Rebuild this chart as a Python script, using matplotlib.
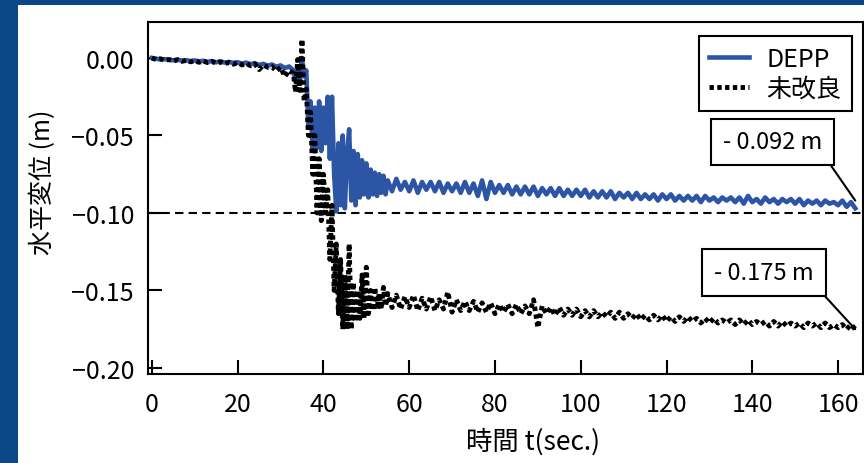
"""
Horizontal displacement time history: DEPP vs. untreated ground.
"""

import matplotlib.pyplot as plt
import numpy as np
from matplotlib.patches import Rectangle
from matplotlib.ticker import FuncFormatter, MultipleLocator

plt.rcParams["font.family"] = ["Noto Sans CJK JP", "DejaVu Sans"]

# sample times (s): quiet start, shaking, settling
T_EARLY = np.arange(0, 33, 1.0)
T_SHAKE = np.arange(33, 55, 0.5)
T_LATE = np.arange(55, 165, 1.0)

# DEPP horizontal displacement (m)
DEPP_EARLY = [
    0.000, -0.0005, -0.0010, -0.0008, -0.0012, -0.0015, -0.0010, -0.0018, -0.0014, -0.0020,
    -0.0016, -0.0022, -0.0018, -0.0025, -0.0020, -0.0028, -0.0022, -0.0030, -0.0026, -0.0032,
    -0.0028, -0.0036, -0.0030, -0.0040, -0.0034, -0.0045, -0.0038, -0.0050, -0.0042, -0.0056,
    -0.0048, -0.0065, -0.0055,
]
DEPP_SHAKE = [
    -0.008, -0.015, -0.006, -0.014, 0.000, -0.012, -0.008, -0.045, -0.028, -0.060,
    -0.032, -0.058, -0.028, -0.060, -0.032, -0.055, -0.025, -0.065, -0.025, -0.075,
    -0.099, -0.055, -0.095, -0.050, -0.097, -0.062, -0.046, -0.092, -0.060, -0.095,
    -0.062, -0.090, -0.066, -0.088, -0.068, -0.090, -0.072, -0.088, -0.074, -0.089,
    -0.075, -0.087, -0.076, -0.088,
]
DEPP_LATE = [
    -0.079, -0.086, -0.078, -0.085, -0.080, -0.086, -0.079, -0.087, -0.080, -0.085,
    -0.080, -0.086, -0.080, -0.087, -0.081, -0.086, -0.081, -0.087, -0.080, -0.087,
    -0.081, -0.089, -0.079, -0.091, -0.080, -0.087, -0.082, -0.087, -0.082, -0.088,
    -0.083, -0.088, -0.083, -0.088, -0.083, -0.089, -0.084, -0.088, -0.084, -0.089,
    -0.084, -0.089, -0.085, -0.089, -0.085, -0.089, -0.085, -0.090, -0.086, -0.090,
    -0.086, -0.090, -0.086, -0.091, -0.087, -0.090, -0.087, -0.091, -0.087, -0.091,
    -0.088, -0.091, -0.088, -0.092, -0.088, -0.091, -0.088, -0.092, -0.089, -0.092,
    -0.089, -0.092, -0.089, -0.093, -0.089, -0.092, -0.090, -0.093, -0.090, -0.092,
    -0.090, -0.093, -0.090, -0.094, -0.089, -0.093, -0.091, -0.094, -0.090, -0.093,
    -0.091, -0.094, -0.091, -0.093, -0.091, -0.094, -0.091, -0.095, -0.092, -0.094,
    -0.092, -0.095, -0.092, -0.094, -0.093, -0.095, -0.092, -0.096, -0.093, -0.097,
]

# untreated ground horizontal displacement (m)
UNTREATED_EARLY = [
    0.000, -0.0010, -0.0005, -0.0015, -0.0010, -0.0020, -0.0012, -0.0022, -0.0015, -0.0025,
    -0.0018, -0.0028, -0.0020, -0.0030, -0.0022, -0.0035, -0.0025, -0.0038, -0.0028, -0.0040,
    -0.0030, -0.0045, -0.0035, -0.0050, -0.0038, -0.0075, -0.0045, -0.0060, -0.0055, -0.0085,
    -0.0060, -0.0120, -0.0080,
]
UNTREATED_SHAKE = [
    -0.010, -0.022, -0.001, -0.021, 0.012, -0.028, -0.020, -0.050, -0.035, -0.075,
    -0.050, -0.100, -0.065, -0.105, -0.075, -0.100, -0.085, -0.130, -0.095, -0.150,
    -0.120, -0.165, -0.130, -0.175, -0.140, -0.175, -0.120, -0.175, -0.145, -0.170,
    -0.150, -0.168, -0.140, -0.168, -0.135, -0.165, -0.150, -0.163, -0.148, -0.162,
    -0.152, -0.162, -0.148, -0.160,
]
UNTREATED_LATE = [
    -0.152, -0.161, -0.153, -0.162, -0.154, -0.161, -0.153, -0.163, -0.155, -0.162,
    -0.154, -0.163, -0.156, -0.162, -0.151, -0.164, -0.156, -0.163, -0.157, -0.163,
    -0.157, -0.164, -0.158, -0.164, -0.158, -0.165, -0.159, -0.164, -0.159, -0.165,
    -0.159, -0.165, -0.160, -0.165, -0.156, -0.174, -0.160, -0.165, -0.161, -0.166,
    -0.161, -0.166, -0.162, -0.166, -0.162, -0.167, -0.163, -0.167, -0.163, -0.167,
    -0.164, -0.167, -0.164, -0.168, -0.164, -0.168, -0.165, -0.168, -0.165, -0.169,
    -0.166, -0.169, -0.166, -0.169, -0.166, -0.170, -0.167, -0.170, -0.167, -0.170,
    -0.167, -0.170, -0.168, -0.171, -0.168, -0.171, -0.168, -0.171, -0.169, -0.171,
    -0.169, -0.172, -0.169, -0.172, -0.169, -0.172, -0.170, -0.172, -0.170, -0.173,
    -0.170, -0.173, -0.170, -0.173, -0.171, -0.173, -0.171, -0.174, -0.171, -0.173,
    -0.171, -0.174, -0.171, -0.174, -0.172, -0.174, -0.172, -0.175, -0.172, -0.175,
]

LIMIT_LINE = -0.10
FINAL_DEPP = -0.092
FINAL_UNTREATED = -0.175
LABEL_DEPP = "DEPP"
LABEL_UNTREATED = "未改良"

DEPP_BLUE = "#2d55a5"
SLIDE_BLUE = "#0b4688"


def minus_format(value, _):
    return f"{value:.2f}".replace("-", "\u2212")


time = np.concatenate([T_EARLY, T_SHAKE, T_LATE])
depp = np.concatenate([DEPP_EARLY, DEPP_SHAKE, DEPP_LATE])
untreated = np.concatenate([UNTREATED_EARLY, UNTREATED_SHAKE, UNTREATED_LATE])

fig = plt.figure(figsize=(8.64, 4.64), dpi=100)
fig.patch.set_facecolor(SLIDE_BLUE)
fig.patches.append(
    Rectangle((18 / 864, 0), 1, 458 / 464, transform=fig.transFigure,
              facecolor="white", edgecolor="none", zorder=-10)
)

ax = fig.add_axes([0.1713, 0.1918, 0.8275, 0.7586])

ax.axhline(LIMIT_LINE, color="black", linewidth=1.5, linestyle=(0, (4, 2.5)), zorder=1)
ax.plot(time, depp, color=DEPP_BLUE, linewidth=3.3, label=LABEL_DEPP, zorder=2)
ax.plot(time, untreated, color="black", linewidth=3.5, linestyle=(0, (0.9, 0.7)),
        label=LABEL_UNTREATED, zorder=3)

box_style = dict(boxstyle="square,pad=0.5", facecolor="white", edgecolor="black", linewidth=1.5)
leader = dict(arrowstyle="-", color="black", linewidth=1.5, relpos=(1, 0), shrinkA=0, shrinkB=0)
ax.annotate(f"- {abs(FINAL_DEPP):.3f} m", xy=(time[-1], FINAL_DEPP), xytext=(144.8, -0.0542),
            ha="center", va="center", fontsize=17, bbox=box_style, arrowprops=leader, zorder=5)
ax.annotate(f"- {abs(FINAL_UNTREATED):.3f} m", xy=(time[-1], FINAL_UNTREATED),
            xytext=(142.7, -0.1384), ha="center", va="center", fontsize=17,
            bbox=box_style, arrowprops=leader, zorder=5)

ax.set_xlim(-0.9, 165.8)
ax.set_ylim(-0.2039, 0.0232)
ax.xaxis.set_major_locator(MultipleLocator(20))
ax.yaxis.set_major_locator(MultipleLocator(0.05))
ax.yaxis.set_major_formatter(FuncFormatter(minus_format))
ax.tick_params(direction="in", length=10, width=1.5, labelsize=18)
ax.tick_params(axis="x", pad=12)
ax.tick_params(axis="y", pad=10)
for spine in ax.spines.values():
    spine.set_linewidth(1.5)

ax.set_xlabel("時間 t(sec.)", fontsize=19)
ax.set_ylabel("水平変位 (m)", fontsize=18)
ax.xaxis.set_label_coords(0.538, -0.15)
ax.yaxis.set_label_coords(-0.128, 0.548)

legend = ax.legend(loc="upper right", bbox_to_anchor=(0.984, 0.961), fontsize=18,
                   fancybox=False, edgecolor="black", framealpha=1, borderaxespad=0,
                   handlelength=1.6, handletextpad=0.7, labelspacing=0.15, borderpad=0.4)
legend.get_frame().set_linewidth(1.5)

fig.savefig("out.png", dpi=100, facecolor=fig.get_facecolor())
